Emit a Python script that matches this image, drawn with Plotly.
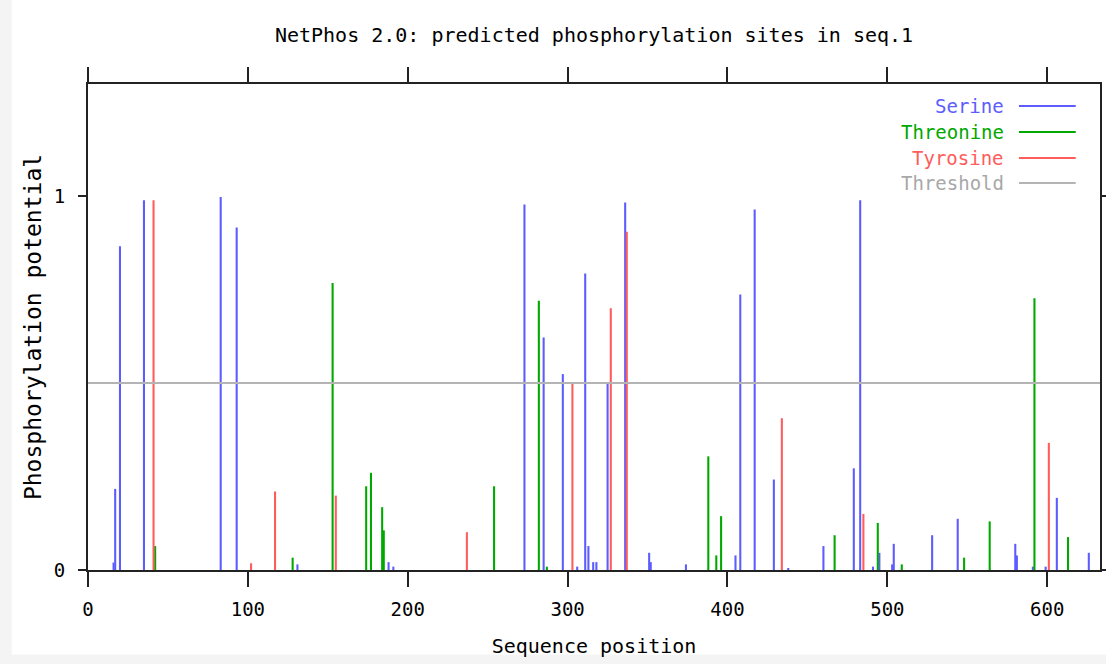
import plotly.graph_objects as go

# ---------------- data ----------------
serine_pos = [16, 17, 20, 35, 83, 93, 131, 188, 191, 273, 285, 297, 306, 311, 313,
              316, 318, 325, 336, 351, 352, 374, 405, 408, 417, 429, 438, 460, 479,
              483, 491, 495, 503, 504, 528, 544, 580, 581, 591, 599, 606, 626]
serine_val = [0.020, 0.217, 0.866, 0.989, 0.998, 0.916, 0.015, 0.021, 0.009, 0.978,
              0.622, 0.524, 0.009, 0.793, 0.064, 0.021, 0.021, 0.501, 0.983, 0.046,
              0.021, 0.015, 0.039, 0.737, 0.964, 0.242, 0.004, 0.064, 0.272, 0.989,
              0.009, 0.046, 0.015, 0.070, 0.093, 0.137, 0.070, 0.039, 0.009, 0.009,
              0.193, 0.046]

threonine_pos = [42, 128, 153, 174, 177, 184, 185, 254, 282, 287, 388, 393, 396,
                 467, 494, 509, 548, 564, 592, 613]
threonine_val = [0.064, 0.033, 0.768, 0.224, 0.260, 0.168, 0.106, 0.224, 0.720,
                 0.009, 0.304, 0.039, 0.144, 0.093, 0.126, 0.015, 0.033, 0.130,
                 0.727, 0.088]

tyrosine_pos = [41, 102, 117, 155, 237, 303, 327, 337, 434, 485, 601]
tyrosine_val = [0.989, 0.018, 0.210, 0.199, 0.101, 0.501, 0.700, 0.905, 0.406,
                0.150, 0.340]

threshold = 0.5
seq_len = 633

series_names = ["Serine", "Threonine", "Tyrosine", "Threshold"]
x_ticks = [0, 100, 200, 300, 400, 500, 600]
y_ticks = [0, 1]

title_text = "NetPhos 2.0: predicted phosphorylation sites in seq.1"
x_title = "Sequence position"
y_title = "Phosphorylation potential"

# ---------------- style ----------------
BLUE = "#5c5cff"
GREEN = "#00a800"
RED = "#ff5c5c"
GREY = "#b4b4b4"
FONT = "DejaVu Sans Mono"
BAR_W = 1.3

fig = go.Figure()

# threshold line
fig.add_trace(go.Scatter(x=[0, seq_len], y=[threshold, threshold], mode="lines",
                         line=dict(color=GREY, width=2), name=series_names[3],
                         showlegend=False, hoverinfo="skip"))

for name, xs, ys, col in [(series_names[0], serine_pos, serine_val, BLUE),
                          (series_names[1], threonine_pos, threonine_val, GREEN),
                          (series_names[2], tyrosine_pos, tyrosine_val, RED)]:
    fig.add_trace(go.Bar(x=xs, y=ys, width=BAR_W, name=name, showlegend=False,
                         marker=dict(color=col, line=dict(width=0))))

# gnuplot-style key: right-aligned text with a line sample on its right
key_cols = [BLUE, GREEN, RED, "#a8a8a8"]
line_cols = [BLUE, GREEN, RED, GREY]
key_y = [0.9548, 0.9013, 0.8479, 0.7965]
shapes = [dict(type="rect", xref="paper", yref="paper", x0=-0.0754, x1=1.03,
               y0=-0.1737, y1=1.2, fillcolor="white", line=dict(width=0),
               layer="below")]
annotations = []
for nm, tc, lc, ky in zip(series_names, key_cols, line_cols, key_y):
    annotations.append(dict(text=nm, xref="paper", yref="paper", x=0.907, y=ky,
                            xanchor="right", yanchor="middle", showarrow=False,
                            font=dict(family=FONT, size=19, color=tc)))
    shapes.append(dict(type="line", xref="paper", yref="paper", x0=0.9199,
                       x1=0.976, y0=ky, y1=ky, line=dict(color=lc, width=2)))

fig.update_layout(
    width=1106, height=664,
    margin=dict(l=88, r=6, t=84, b=94, pad=0),
    paper_bgcolor="#f4f4f4",
    plot_bgcolor="white",
    barmode="overlay",
    showlegend=False,
    font=dict(family=FONT, size=19, color="black"),
    title=dict(text=title_text, x=0.5, xref="paper", xanchor="center",
               y=1 - 35 / 664, yref="container", yanchor="middle",
               font=dict(family=FONT, size=20, color="black")),
    shapes=shapes,
    annotations=annotations,
)

fig.update_xaxes(range=[0, seq_len], tickvals=x_ticks, ticktext=[str(t) for t in x_ticks],
                 showline=True, linecolor="#222222", linewidth=2, mirror="ticks",
                 ticks="outside", ticklen=15, tickwidth=2, tickcolor="#222222",
                 ticklabelstandoff=6, automargin=False,
                 showgrid=False, zeroline=False,
                 title=dict(text=x_title, standoff=20, font=dict(family=FONT, size=20)))
fig.update_yaxes(range=[0, 1.3], tickvals=y_ticks, ticktext=[str(t) for t in y_ticks],
                 showline=True, linecolor="#222222", linewidth=2, mirror="ticks",
                 ticks="outside", ticklen=8, tickwidth=2, tickcolor="#222222",
                 ticklabelstandoff=9, automargin=False,
                 showgrid=False, zeroline=False,
                 title=dict(text=y_title, standoff=6, font=dict(family=FONT, size=23)))

fig.write_html("out.html", config={"displayModeBar": False},
               post_script="document.body.style.margin='0';document.body.style.padding='0';")
